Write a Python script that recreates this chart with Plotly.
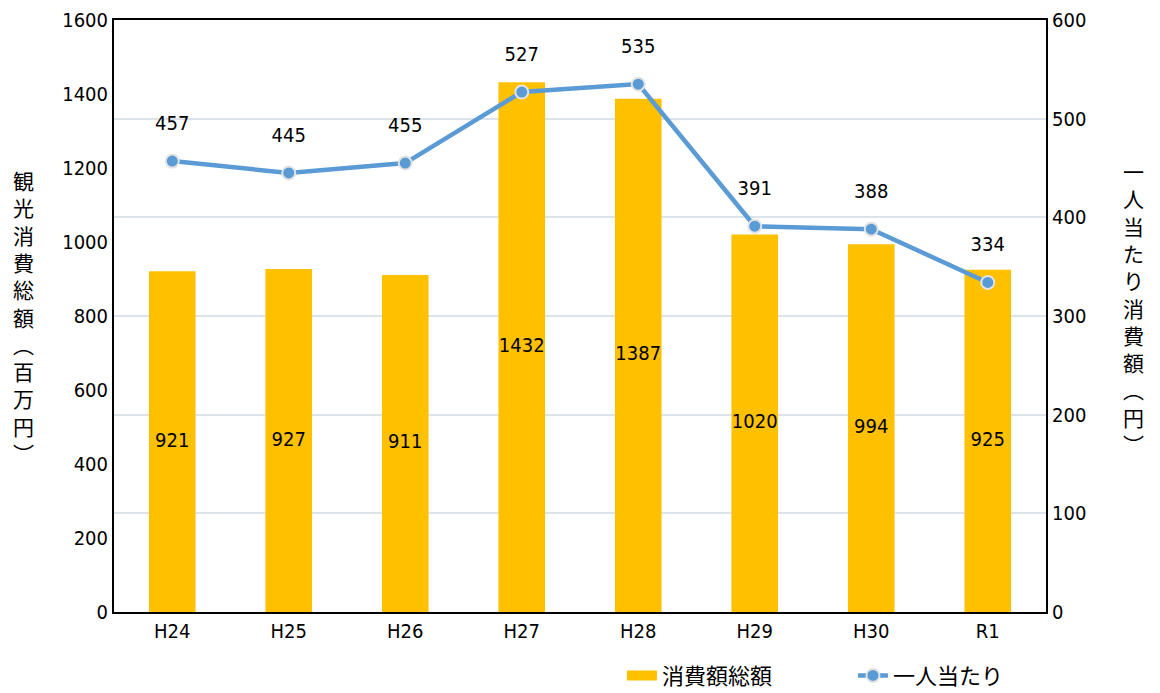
import plotly.graph_objects as go

categories = ["H24", "H25", "H26", "H27", "H28", "H29", "H30", "R1"]
total_spend = [921, 927, 911, 1432, 1387, 1020, 994, 925]
per_person = [457, 445, 455, 527, 535, 391, 388, 334]
left_ticks = [0, 200, 400, 600, 800, 1000, 1200, 1400, 1600]
right_ticks = [0, 100, 200, 300, 400, 500, 600]

FONT = "Liberation Sans Narrow, DejaVu Sans Condensed, Noto Sans CJK JP, sans-serif"
JP = "Noto Sans CJK JP, sans-serif"
BAR_C = "#FFC000"
LINE_C = "#5B9BD5"

fig = go.Figure()
fig.add_trace(go.Bar(
    x=categories, y=total_spend, name="消費額総額", showlegend=False,
    marker=dict(color=BAR_C, line=dict(width=0)),
    yaxis="y", hoverinfo="x+y",
))
# bar value labels at the middle of each bar
fig.add_trace(go.Scatter(
    x=categories, y=[v / 2 for v in total_spend], yaxis="y", mode="text",
    showlegend=False, text=[str(v) for v in total_spend],
    textposition="middle center",
    textfont=dict(family=FONT, size=20, color="black"), hoverinfo="skip",
))
# legend-only entry for the bar series (wide swatch)
fig.add_trace(go.Scatter(
    x=[None], y=[None], name="消費額総額", mode="lines", yaxis="y",
    line=dict(color=BAR_C, width=16),
))
fig.add_trace(go.Scatter(
    x=categories, y=per_person, name="一人当たり", yaxis="y2",
    mode="lines+markers",
    line=dict(color=LINE_C, width=4.5),
    marker=dict(size=13, color=LINE_C, line=dict(color="#E3E3E3", width=2)),
))
# data labels for the line
fig.add_trace(go.Scatter(
    x=categories, y=per_person, yaxis="y2", mode="markers+text", showlegend=False,
    marker=dict(size=40, color="rgba(0,0,0,0)"),
    text=[str(v) for v in per_person], textposition="top center",
    textfont=dict(family=FONT, size=20, color="black"),
    cliponaxis=False, hoverinfo="skip",
))

fig.update_layout(
    width=1152, height=685,
    margin=dict(l=106, r=114, t=12, b=81, autoexpand=False),
    plot_bgcolor="white", paper_bgcolor="white",
    font=dict(family=FONT, size=20, color="black"),
    bargap=0.6,
    showlegend=True,
    legend=dict(orientation="h", x=0.545, xanchor="left", y=-0.072, yanchor="top",
                font=dict(family=JP, size=22), traceorder="normal",
                entrywidth=186, entrywidthmode="pixels"),
    xaxis=dict(range=[-0.5, 7.5], showline=True, linecolor="black", linewidth=2,
               mirror=True, ticks="", tickfont=dict(family=FONT, size=20),
               automargin=False),
    yaxis=dict(range=[0, 1600], tickvals=left_ticks, showgrid=False,
               showline=True, linecolor="black", linewidth=2, ticks="",
               tickfont=dict(family=FONT, size=20), zeroline=False, automargin=False),
    yaxis2=dict(range=[0, 600], tickvals=right_ticks, overlaying="y", side="right",
                showgrid=True, gridcolor="#DDE3EA", gridwidth=1.5,
                showline=True, linecolor="black", linewidth=2, ticks="",
                tickfont=dict(family=FONT, size=20), zeroline=False, automargin=False),
)

left_title = "<br>".join(list("観光消費総額︵百万円︶"))
right_title = "<br>".join(list("一人当たり消費額︵円︶"))
fig.add_annotation(text=left_title, xref="paper", yref="paper", x=-0.097, y=0.5,
                   xanchor="center", yanchor="middle", showarrow=False,
                   font=dict(family=JP, size=21), align="center")
fig.add_annotation(text=right_title, xref="paper", yref="paper", x=1.094, y=0.515,
                   xanchor="center", yanchor="middle", showarrow=False,
                   font=dict(family=JP, size=21), align="center")

fig.write_html("out.html")
